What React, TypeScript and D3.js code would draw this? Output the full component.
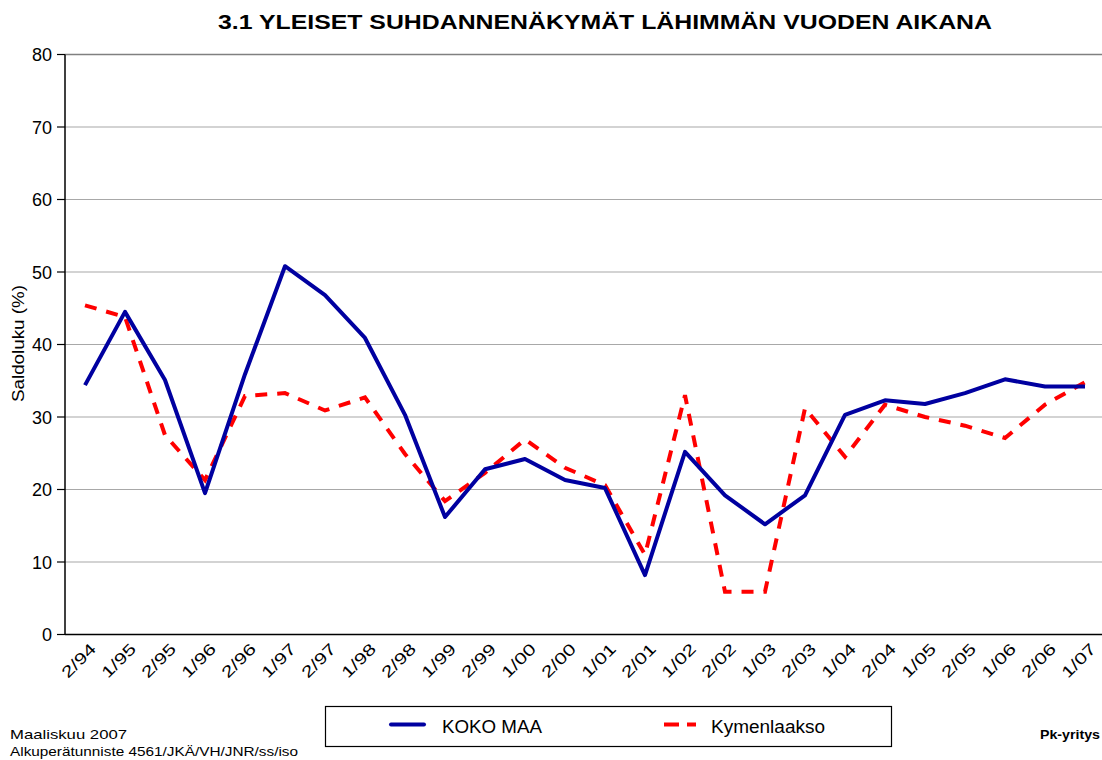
import React from "react";
import * as d3 from "d3";

const categories = ["2/94","1/95","2/95","1/96","2/96","1/97","2/97","1/98","2/98","1/99","2/99","1/00","2/00","1/01","2/01","1/02","2/02","1/03","2/03","1/04","2/04","1/05","2/05","1/06","2/06","1/07"];
const kokoMaa = [34.4,44.5,35.1,19.5,35.9,50.8,46.8,40.9,30.3,16.2,22.8,24.2,21.3,20.2,8.2,25.2,19.2,15.2,19.2,30.3,32.3,31.8,33.3,35.2,34.2,34.2];
const kymenlaakso = [45.4,43.8,27.5,21.3,32.9,33.3,30.9,32.7,24.9,18.4,22.3,26.9,23.0,20.6,11.0,33.0,5.9,5.9,31.2,24.5,31.7,30.0,28.8,27.1,31.7,34.8];
const yTicks = [0,10,20,30,40,50,60,70,80];

const W = 1102, H = 760;
const left = 65, right = 1105, top = 54.5, bottom = 634.5;

export default function App() {
  const x = d3.scalePoint<string>().domain(categories).range([left, right]).padding(0.5);
  const y = d3.scaleLinear().domain([0, 80]).range([bottom, top]);
  const line = d3.line<number>().x((_, i) => x(categories[i]) as number).y(d => y(d));
  const font = "Arial, 'Liberation Sans', sans-serif";
  return (
    <svg width={W} height={H} style={{ position: "absolute", left: 0, top: 0, background: "#fff" }} fontFamily={font}>
      <text x={218} y={28.5} fontSize={20.5} fontWeight="bold" textLength={774} lengthAdjust="spacingAndGlyphs">3.1 YLEISET SUHDANNENÄKYMÄT LÄHIMMÄN VUODEN AIKANA</text>
      {yTicks.filter(t => t > 0).map(t => (
        <line key={t} x1={left} x2={W} y1={y(t)} y2={y(t)} stroke={t === 80 ? "#808080" : "#a8a8a8"} strokeWidth={t === 80 ? 1.5 : 1.2} />
      ))}
      {yTicks.map(t => (
        <g key={"t" + t}>
          <line x1={57} x2={left} y1={y(t)} y2={y(t)} stroke="#000" strokeWidth={1.2} />
          <text x={52} y={y(t) + 6.5} textAnchor="end" fontSize={18}>{t}</text>
        </g>
      ))}
      <line x1={left} x2={left} y1={top} y2={bottom} stroke="#000" strokeWidth={1.5} />
      <line x1={left} x2={W} y1={bottom} y2={bottom} stroke="#000" strokeWidth={1.5} />
      <text transform={`translate(24,${402}) rotate(-90)`} fontSize={16.5} textLength={117} lengthAdjust="spacingAndGlyphs">Saldoluku (%)</text>
      {categories.map(c => (
        <text key={c} transform={`translate(${(x(c) as number) + 12},${650}) rotate(-45)`} textAnchor="end" fontSize={16} textLength={41} lengthAdjust="spacingAndGlyphs">{c}</text>
      ))}
      <path d={line(kymenlaakso) || ""} fill="none" stroke="#ff0000" strokeWidth={4} strokeDasharray="12,10" />
      <path d={line(kokoMaa) || ""} fill="none" stroke="#0000a0" strokeWidth={4} strokeLinejoin="round" />
      <rect x={325.5} y={706.5} width={566} height={40} fill="#fff" stroke="#000" strokeWidth={1.2} />
      <line x1={391} x2={424} y1={724.5} y2={724.5} stroke="#0000a0" strokeWidth={4} strokeLinecap="round" />
      <text x={442} y={733} fontSize={17.5} textLength={100} lengthAdjust="spacingAndGlyphs">KOKO MAA</text>
      <line x1={664} x2={696} y1={724.5} y2={724.5} stroke="#ff0000" strokeWidth={4} strokeDasharray="15,8" />
      <text x={711} y={733} fontSize={17.5} textLength={114} lengthAdjust="spacingAndGlyphs">Kymenlaakso</text>
      <text x={10} y={739} fontSize={13.5} textLength={117} lengthAdjust="spacingAndGlyphs">Maaliskuu 2007</text>
      <text x={10} y={756} fontSize={13.5} textLength={288} lengthAdjust="spacingAndGlyphs">Alkuperätunniste 4561/JKÄ/VH/JNR/ss/iso</text>
      <text x={1040} y={739} fontSize={13.5} fontWeight="bold" textLength={60} lengthAdjust="spacingAndGlyphs">Pk-yritys</text>
    </svg>
  );
}
